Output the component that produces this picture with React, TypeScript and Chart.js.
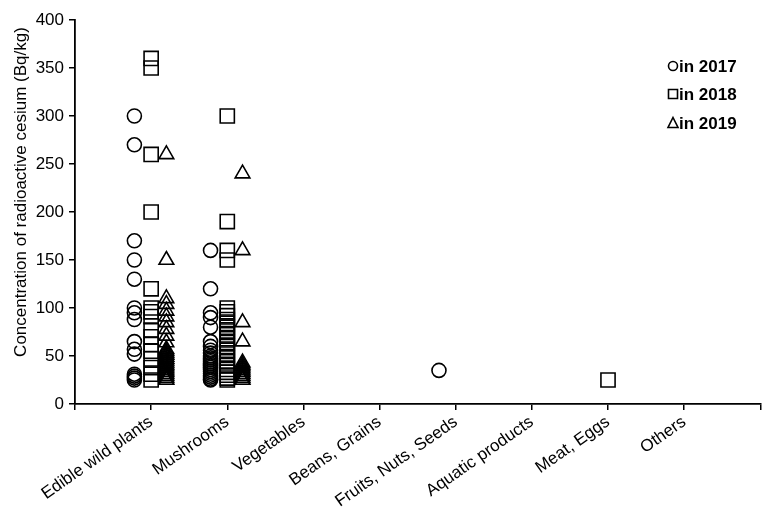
import React, { useEffect, useRef } from "react";
import { Chart, registerables } from "chart.js";

Chart.register(...registerables);

const categories = [
  "Edible wild plants",
  "Mushrooms",
  "Vegetables",
  "Beans, Grains",
  "Fruits, Nuts, Seeds",
  "Aquatic products",
  "Meat, Eggs",
  "Others",
];

const yearLabels = ["in 2017", "in 2018", "in 2019"];
const yTicks = [0, 50, 100, 150, 200, 250, 300, 350, 400];

// Edible wild plants
const wildPlants2017 = [300, 270, 170, 150, 130, 100, 95, 88, 65, 57, 52, 31, 29, 27, 25];
const wildPlants2018 = [360, 350, 260, 200, 120, 100, 96, 91, 77, 70, 62, 55, 47, 38, 31, 25];
const wildPlants2019 = [260, 150, 110, 104, 97, 91, 85, 78, 71, 64, 57, 55, 53, 51, 49, 47, 45, 43, 41, 39, 37, 35, 33, 31, 29, 27, 25];

// Mushrooms
const mushrooms2017 = [160, 120, 95, 90, 80, 65, 60, 56, 53, 50, 48, 46, 44, 42, 40, 38, 36, 34, 32, 30, 28, 26, 25];
const mushrooms2018 = [300, 190, 160, 150, 100, 96, 92, 88, 84, 80, 76, 72, 68, 64, 60, 56, 52, 48, 44, 40, 36, 33, 30, 27, 25];
const mushrooms2019 = [240, 160, 85, 65, 43, 41, 39, 37, 35, 33, 31, 29, 27, 25];

// Other categories
const fruits2017 = [35];
const meat2018 = [25];

const values2017 = [wildPlants2017, mushrooms2017, [], [], fruits2017, [], [], []];
const values2018 = [wildPlants2018, mushrooms2018, [], [], [], [], meat2018, []];
const values2019 = [wildPlants2019, mushrooms2019, [], [], [], [], [], []];

const yearValues = [values2017, values2018, values2019];
const yearOffsets = [-0.22, 0, 0.2];
const pointStyles = ["circle", "rect", "triangle"] as const;
const pointRadii = [7, 10, 8.5];

const FONT = "'Liberation Sans', Arial, Helvetica, sans-serif";

function buildPoints(values: number[][], offset: number) {
  const pts: { x: number; y: number }[] = [];
  values.forEach((arr, ci) => {
    arr.forEach((v) => pts.push({ x: ci + 1 + offset, y: v }));
  });
  return pts;
}

const overlayPlugin = {
  id: "overlay",
  afterDraw(chart: any) {
    const ctx = chart.ctx as CanvasRenderingContext2D;
    ctx.save();
    // y-axis title
    ctx.fillStyle = "#000";
    ctx.font = `17px ${FONT}`;
    ctx.textAlign = "center";
    ctx.textBaseline = "middle";
    ctx.translate(21, 192);
    ctx.rotate(-Math.PI / 2);
    ctx.fillText("Concentration of radioactive cesium (Bq/kg)", 0, 0);
    ctx.restore();

    // legend
    ctx.save();
    ctx.strokeStyle = "#000";
    ctx.fillStyle = "#000";
    ctx.lineWidth = 1.6;
    const rows = [66, 94, 123];
    const sx = 673;
    rows.forEach((ry, i) => {
      ctx.beginPath();
      if (i === 0) {
        ctx.arc(sx, ry, 4.5, 0, Math.PI * 2);
      } else if (i === 1) {
        ctx.rect(sx - 4.5, ry - 4.5, 9, 9);
      } else {
        ctx.moveTo(sx, ry - 5.5);
        ctx.lineTo(sx + 5, ry + 4.5);
        ctx.lineTo(sx - 5, ry + 4.5);
        ctx.closePath();
      }
      ctx.stroke();
      ctx.font = `bold 17px ${FONT}`;
      ctx.textAlign = "left";
      ctx.textBaseline = "middle";
      ctx.fillText(yearLabels[i], sx + 6, ry + 1);
    });
    ctx.restore();
  },
};

export default function App() {
  const canvasRef = useRef<HTMLCanvasElement | null>(null);

  useEffect(() => {
    if (!canvasRef.current) return;
    const datasets = yearValues.map((vals, i) => ({
      label: yearLabels[i],
      data: buildPoints(vals, yearOffsets[i]),
      pointStyle: pointStyles[i],
      pointRadius: pointRadii[i],
      pointHoverRadius: pointRadii[i],
      borderColor: "#000",
      backgroundColor: "rgba(0,0,0,0)",
      pointBorderWidth: 1.6,
      borderWidth: 1.6,
      showLine: false,
    }));

    const chart = new Chart(canvasRef.current, {
      type: "scatter",
      data: { datasets },
      options: {
        responsive: true,
        maintainAspectRatio: false,
        animation: false,
        layout: { padding: { left: 0, right: 8, top: 20, bottom: 0 } },
        plugins: {
          legend: { display: false },
          tooltip: { enabled: false },
        },
        scales: {
          x: {
            type: "linear",
            position: "bottom",
            min: 0,
            max: categories.length + 1,
            afterBuildTicks: (scale: any) => {
              const t = [];
              for (let i = 0; i <= categories.length + 1; i++) t.push({ value: i });
              scale.ticks = t;
            },
            afterFit: (scale: any) => {
              scale.height = 114;
            },
            ticks: {
              autoSkip: false,
              maxRotation: 35,
              minRotation: 35,
              padding: 2,
              color: "#000",
              font: { family: FONT, size: 17 },
              callback: (v: any) => categories[Number(v) - 1] ?? "",
            },
            grid: {
              drawOnChartArea: false,
              drawTicks: true,
              tickLength: 6,
              color: "#000",
              lineWidth: 1.5,
            },
            border: { color: "#000", width: 1.8 },
          },
          y: {
            min: 0,
            max: 400,
            afterBuildTicks: (scale: any) => {
              scale.ticks = yTicks.map((v) => ({ value: v }));
            },
            afterFit: (scale: any) => {
              scale.width = 75;
            },
            ticks: {
              color: "#000",
              padding: 5,
              font: { family: FONT, size: 17 },
            },
            grid: {
              drawOnChartArea: false,
              drawTicks: true,
              tickLength: 6,
              color: "#000",
              lineWidth: 1.5,
            },
            border: { color: "#000", width: 1.8 },
          },
        },
      },
      plugins: [overlayPlugin],
    });
    return () => chart.destroy();
  }, []);

  return (
    <div
      style={{
        position: "fixed",
        left: 0,
        top: 0,
        width: 774,
        height: 518,
        background: "#fff",
      }}
    >
      <canvas ref={canvasRef} />
    </div>
  );
}
